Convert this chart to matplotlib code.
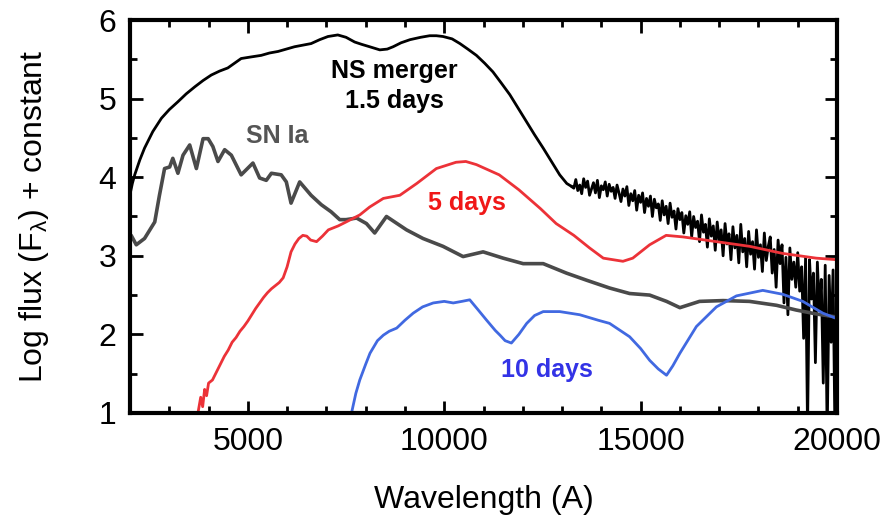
import numpy as np
import matplotlib
matplotlib.use('Agg')
import matplotlib.pyplot as plt
from matplotlib.ticker import MultipleLocator

plt.rcParams['font.family'] = ['Liberation Sans', 'DejaVu Sans']
plt.rcParams['mathtext.fontset'] = 'custom'
plt.rcParams['mathtext.rm'] = 'Liberation Sans'
plt.rcParams['mathtext.it'] = 'Liberation Sans:italic'

# NS merger, 1.5 days: smooth part
ns_wave = [2000, 2060, 2120, 2250, 2370, 2580, 2800, 3000, 3220, 3430, 3650, 3860,
           4070, 4280, 4490, 4660, 4830, 5080, 5340, 5550, 5770, 5980, 6190, 6400,
           6610, 6830, 7040, 7290, 7500, 7720, 7900, 8100, 8360, 8550, 8700, 8900,
           9130, 9400, 9630, 9800, 9970, 10200, 10400, 10600, 10820, 11030, 11240,
           11450, 11670, 11880, 12090, 12300, 12520, 12730, 12940, 13120, 13250]
ns_flux = [3.78, 3.92, 4.03, 4.22, 4.37, 4.58, 4.75, 4.86, 4.96, 5.06, 5.15, 5.23,
           5.30, 5.35, 5.39, 5.45, 5.51, 5.53, 5.55, 5.58, 5.60, 5.63, 5.66, 5.68,
           5.70, 5.75, 5.79, 5.81, 5.78, 5.72, 5.69, 5.66, 5.62, 5.63, 5.66, 5.71,
           5.75, 5.78, 5.80, 5.80, 5.79, 5.76, 5.70, 5.63, 5.55, 5.45, 5.34,
           5.20, 5.05, 4.88, 4.71, 4.54, 4.37, 4.20, 4.03, 3.92, 3.88]

# NS merger, noisy red end (13300 - 20000 A, every 50 A)
ns_noisy_wave = np.arange(13300, 20001, 50)
ns_noisy_flux = [
    3.86, 3.97, 3.83, 3.90, 3.79, 3.98, 3.87, 3.95, 3.77, 3.85, 3.93, 3.80, 3.96, 3.74, 3.89, 3.84, 3.94, 3.76, 3.91, 3.82,
    3.87, 3.73, 3.90, 3.80, 3.69, 3.85, 3.76, 3.88, 3.64, 3.79, 3.70, 3.83, 3.58, 3.77, 3.68, 3.80, 3.55, 3.73, 3.63, 3.76,
    3.50, 3.72, 3.61, 3.66, 3.45, 3.70, 3.52, 3.63, 3.41, 3.67, 3.49, 3.57, 3.34, 3.60, 3.46, 3.55, 3.29, 3.51, 3.40, 3.56,
    3.24, 3.50, 3.36, 3.44, 3.18, 3.52, 3.30, 3.40, 3.11, 3.47, 3.25, 3.38, 3.07, 3.43, 3.19, 3.33, 3.00, 3.41, 3.15, 3.28,
    2.95, 3.37, 3.10, 3.26, 2.91, 3.40, 3.05, 3.22, 2.86, 3.31, 3.02, 3.18, 2.83, 3.33, 2.98, 3.14, 2.80, 3.29, 2.94, 3.12,
    3.24, 2.78, 3.08, 2.60, 3.20, 2.90, 3.14, 2.40, 2.98, 2.25, 3.10, 2.70, 2.92, 2.60, 3.04, 2.55, 2.86, 1.95, 2.98, 0.80,
    2.95, 2.45, 2.78, 1.64, 2.92, 2.30, 2.70, 1.38, 2.88, 0.70, 2.75, 1.90, 2.82, 0.60, 2.62]

# SN Ia
ia_wave = [2000, 2030, 2160, 2370, 2630, 2750, 2880, 3010, 3090, 3220, 3350, 3520,
           3690, 3860, 3990, 4110, 4240, 4410, 4580, 4830, 5130, 5300, 5470, 5600,
           5850, 5980, 6100, 6320, 6610, 6870, 7120, 7340, 7500, 7770, 8020, 8230,
           8530, 9040, 9460, 9970, 10480, 10990, 11500, 12010, 12520, 13110, 13620,
           14210, 14720, 15230, 15660, 16000, 16500, 17100, 17770, 18460, 18960,
           19470, 20000]
ia_flux = [3.20, 3.26, 3.14, 3.22, 3.43, 3.77, 4.11, 4.13, 4.24, 4.05, 4.28, 4.41,
           4.11, 4.49, 4.49, 4.39, 4.20, 4.35, 4.28, 4.03, 4.18, 3.99, 3.96, 4.05,
           4.03, 3.94, 3.67, 3.94, 3.77, 3.65, 3.56, 3.46, 3.46, 3.48, 3.41, 3.29,
           3.50, 3.33, 3.22, 3.12, 2.99, 3.05, 2.97, 2.90, 2.90, 2.78, 2.69,
           2.59, 2.52, 2.50, 2.42, 2.34, 2.42, 2.43, 2.42, 2.37, 2.31,
           2.26, 2.22]

# 5 days
d5_wave = [3730, 3800, 3850, 3900, 3950, 4000, 4100, 4200, 4300, 4400, 4500, 4600,
           4700, 4800, 4900, 5000, 5100, 5200, 5300, 5400, 5500, 5600, 5700, 5800,
           5900, 6000, 6100, 6200, 6300, 6400, 6500, 6600, 6750, 6900, 7050, 7300,
           7500, 7850, 8100, 8450, 8870, 9300, 9800, 10300, 10550, 10820, 11400,
           11900, 12450, 12850, 13300, 13700, 14050, 14550, 14800, 15230, 15650,
           16080, 16930, 17780, 18620, 19470, 20000]
d5_flux = [1.00, 1.20, 1.08, 1.30, 1.22, 1.38, 1.42, 1.52, 1.62, 1.72, 1.80, 1.90,
           1.96, 2.04, 2.10, 2.17, 2.25, 2.33, 2.40, 2.47, 2.53, 2.58, 2.62, 2.66,
           2.72, 2.86, 3.05, 3.15, 3.22, 3.26, 3.25, 3.20, 3.18, 3.25, 3.33, 3.38,
           3.43, 3.52, 3.62, 3.73, 3.77, 3.92, 4.11, 4.19, 4.20, 4.16, 4.03,
           3.84, 3.60, 3.41, 3.26, 3.10, 2.97, 2.93, 2.97, 3.14, 3.26,
           3.24, 3.18, 3.12, 3.03, 2.97, 2.95]

# 10 days
d10_wave = [7640, 7750, 7850, 8000, 8110, 8300, 8450, 8600, 8790, 9000, 9210, 9450,
            9720, 10000, 10230, 10450, 10650, 10850, 11080, 11300, 11420, 11550,
            11710, 11900, 12100, 12300, 12520, 12940, 13450, 13920, 14210, 14720,
            15000, 15230, 15450, 15660, 15820, 16000, 16420, 16930, 17440, 18110,
            18620, 19130, 19640, 20000]
d10_flux = [1.00, 1.25, 1.42, 1.62, 1.76, 1.92, 1.99, 2.04, 2.08, 2.18, 2.27, 2.35,
            2.40, 2.42, 2.40, 2.42, 2.44, 2.32, 2.18, 2.05, 1.99, 1.92,
            1.89, 2.00, 2.14, 2.24, 2.29, 2.29, 2.25, 2.18, 2.14, 1.97,
            1.82, 1.67, 1.56, 1.48, 1.60, 1.76, 2.10, 2.35, 2.49, 2.56,
            2.51, 2.42, 2.27, 2.20]

fig = plt.figure(figsize=(8.91, 5.17), dpi=100)
ax = fig.add_axes([0.1459, 0.2012, 0.7935, 0.7601])

ax.plot(ns_wave, ns_flux, color='black', lw=2.0)
ax.plot(np.concatenate([[13250], ns_noisy_wave]), [3.88] + ns_noisy_flux, color='black', lw=2.0)
ax.plot(ia_wave, ia_flux, color='#4a4a4a', lw=2.6)
ax.plot(d5_wave, d5_flux, color='#ec3238', lw=2.0)
ax.plot(d10_wave, d10_flux, color='#4169e1', lw=2.0)

ax.text(8720, 5.26, 'NS merger', fontsize=18, fontweight='bold', ha='center', va='baseline', color='black')
ax.text(8740, 4.88, '1.5 days', fontsize=18, fontweight='bold', ha='center', va='baseline', color='black')
ax.text(5740, 4.44, 'SN Ia', fontsize=18, fontweight='bold', ha='center', va='baseline', color='#555555')
ax.text(10590, 3.58, '5 days', fontsize=18, fontweight='bold', ha='center', va='baseline', color='#f01818')
ax.text(12610, 1.46, '10 days', fontsize=18, fontweight='bold', ha='center', va='baseline', color='#3333e6')

ax.set_xlim(2000, 20000)
ax.set_ylim(1, 6)
ax.xaxis.set_major_locator(MultipleLocator(5000))
ax.xaxis.set_minor_locator(MultipleLocator(1000))
ax.yaxis.set_major_locator(MultipleLocator(1))
ax.yaxis.set_minor_locator(MultipleLocator(0.5))
ax.tick_params(which='both', direction='in', top=True, right=True, width=2)
ax.tick_params(which='major', length=9, labelsize=23, pad=10)
ax.tick_params(which='minor', length=5)
for s in ax.spines.values():
    s.set_linewidth(3)

ax.set_xlabel('Wavelength (A)', fontsize=23, labelpad=20)
ax.set_ylabel('Log flux (F$_{\\mathrm{\\lambda}}$) + constant', fontsize=23, labelpad=34)

fig.savefig('out.png', dpi=100)
